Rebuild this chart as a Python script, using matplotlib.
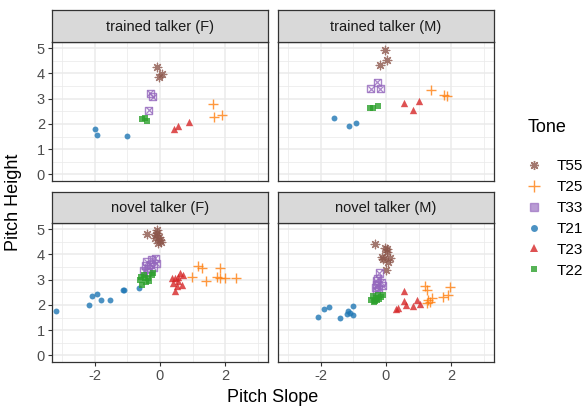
import matplotlib
matplotlib.use("Agg")
import matplotlib.pyplot as plt
from matplotlib.lines import Line2D

plt.rcParams["font.family"] = ["Liberation Sans", "DejaVu Sans"]
plt.rcParams["axes.unicode_minus"] = False

# tone order used in the legend
tones = ["T55", "T25", "T33", "T21", "T23", "T22"]
tone_colors = ["#8c564b", "#ff7f0e", "#9467bd", "#1f77b4", "#d62728", "#2ca02c"]

panel_titles = ["trained talker (F)", "trained talker (M)",
                "novel talker (F)", "novel talker (M)"]

# trained talker (F)
trained_f_tone = ["T55"] * 3 + ["T25"] * 3 + ["T33"] * 3 + ["T21"] * 3 + ["T23"] * 3 + ["T22"] * 3
trained_f_x = [-0.10, 0.07, -0.03, 1.62, 1.64, 1.88, -0.30, -0.22, -0.34,
               -1.99, -1.93, -1.00, 0.43, 0.56, 0.88, -0.55, -0.47, -0.40]
trained_f_y = [4.26, 3.97, 3.84, 2.78, 2.29, 2.34, 3.22, 3.07, 2.54,
               1.79, 1.55, 1.54, 1.79, 1.90, 2.09, 2.20, 2.24, 2.13]

# trained talker (M)
trained_m_tone = ["T55"] * 3 + ["T25"] * 3 + ["T33"] * 3 + ["T21"] * 3 + ["T23"] * 3 + ["T22"] * 3
trained_m_x = [-0.02, 0.03, -0.17, 1.36, 1.78, 1.87, -0.26, -0.47, -0.18,
               -1.59, -1.13, -0.91, 0.56, 1.02, 0.83, -0.49, -0.40, -0.25]
trained_m_y = [4.92, 4.52, 4.34, 3.36, 3.13, 3.11, 3.64, 3.40, 3.40,
               2.22, 1.90, 2.05, 2.83, 2.91, 2.54, 2.61, 2.63, 2.71]

# novel talker (F)
novel_f_tone = ["T21"] * 9 + ["T22"] * 10 + ["T33"] * 10 + ["T55"] * 9 + ["T23"] * 10 + ["T25"] * 9
novel_f_x = [-3.17, -2.16, -2.08, -1.92, -1.79, -1.53, -1.14, -1.09, -0.65,
             -0.57, -0.55, -0.44, -0.38, -0.25, -0.60, -0.50, -0.45, -0.33, -0.20,
             -0.50, -0.45, -0.40, -0.35, -0.30, -0.25, -0.20, -0.15, -0.12, -0.38,
             -0.39, -0.10, -0.15, -0.05, 0.00, -0.08, -0.02, 0.02, -0.12,
             0.46, 0.61, 0.71, 0.46, 0.51, 0.66, 0.41, 0.56, 0.36, 0.55,
             1.17, 1.27, 0.97, 1.40, 1.83, 1.75, 1.98, 1.83, 2.31]
novel_f_y = [1.77, 1.99, 2.35, 2.44, 2.18, 2.19, 2.57, 2.57, 2.68,
             3.12, 2.80, 2.90, 3.08, 3.19, 3.00, 3.20, 3.05, 2.95, 3.25,
             3.35, 3.55, 3.70, 3.45, 3.60, 3.80, 3.50, 3.85, 3.65, 3.30,
             4.80, 4.96, 4.63, 4.44, 4.57, 4.85, 4.70, 4.50, 4.75,
             3.06, 3.26, 3.19, 2.53, 2.73, 2.80, 2.86, 2.93, 3.06, 3.10,
             3.55, 3.45, 3.12, 2.93, 3.45, 3.12, 3.08, 3.06, 3.06]

# novel talker (M)
novel_m_tone = ["T21"] * 9 + ["T22"] * 10 + ["T33"] * 9 + ["T55"] * 9 + ["T23"] * 8 + ["T25"] * 9
novel_m_x = [-2.08, -1.88, -1.74, -1.40, -1.15, -1.10, -1.02, -1.00, -1.20,
             -0.45, -0.40, -0.35, -0.30, -0.25, -0.20, -0.15, -0.10, -0.38, -0.28,
             -0.21, -0.28, -0.28, -0.10, -0.30, -0.22, -0.25, -0.15, -0.32,
             -0.34, 0.02, -0.13, 0.07, 0.00, -0.10, 0.12, 0.04, -0.02,
             0.55, 0.30, 0.55, 0.61, 0.83, 0.95, 1.04, 0.38,
             1.19, 1.24, 1.29, 1.24, 1.42, 1.75, 1.90, 1.97, 1.33]
novel_m_y = [1.52, 1.84, 1.90, 1.47, 1.74, 1.68, 1.59, 1.97, 1.65,
             2.20, 2.35, 2.15, 2.28, 2.40, 2.25, 2.30, 2.38, 2.10, 2.20,
             3.26, 2.55, 2.80, 2.76, 2.95, 2.65, 3.05, 2.90, 2.70,
             4.41, 4.20, 3.91, 3.71, 3.39, 3.80, 3.85, 4.10, 4.25,
             2.53, 1.84, 2.14, 2.00, 1.97, 2.20, 2.03, 1.88,
             2.76, 2.60, 2.20, 2.07, 2.27, 2.31, 2.40, 2.70, 2.13]

panel_data = [(trained_f_x, trained_f_y, trained_f_tone),
              (trained_m_x, trained_m_y, trained_m_tone),
              (novel_f_x, novel_f_y, novel_f_tone),
              (novel_m_x, novel_m_y, novel_m_tone)]

ALPHA = 0.8
GRID = "#ebebeb"
BORDER = "#333333"


def draw_tone(ax, x, y, tone, color, scale=1.0):
    # ggplot-like shapes for each tone
    if tone == "T55":
        ax.scatter(x, y, marker=(8, 2, 0), s=38 * scale, color=color,
                   linewidths=0.9, alpha=ALPHA, zorder=3)
    elif tone == "T25":
        ax.scatter(x, y, marker="+", s=60 * scale, color=color,
                   linewidths=1.0, alpha=ALPHA, zorder=3)
    elif tone == "T33":
        ax.scatter(x, y, marker="s", s=26 * scale, facecolors="none",
                   edgecolors=color, linewidths=1.0, alpha=ALPHA, zorder=3)
        ax.scatter(x, y, marker="x", s=20 * scale, color=color,
                   linewidths=0.9, alpha=ALPHA, zorder=3)
    elif tone == "T21":
        ax.scatter(x, y, marker="o", s=18 * scale, color=color,
                   linewidths=0, alpha=ALPHA, zorder=3)
    elif tone == "T23":
        ax.scatter(x, y, marker="^", s=28 * scale, color=color,
                   linewidths=0, alpha=ALPHA, zorder=3)
    elif tone == "T22":
        ax.scatter(x, y, marker="s", s=20 * scale, color=color,
                   linewidths=0, alpha=ALPHA, zorder=3)


fig = plt.figure(figsize=(5.87, 4.08), dpi=100)
W, H = 587.0, 408.0

panel_left = [52, 278]
panel_top = [42, 223]
panel_w, panel_h = 216, 139
strip_h = [32, 31]

for i, (x, y, tone_list) in enumerate(panel_data):
    row, col = divmod(i, 2)
    l = panel_left[col]
    t = panel_top[row]
    ax = fig.add_axes([l / W, 1 - (t + panel_h) / H, panel_w / W, panel_h / H])
    ax.set_xlim(-3.3, 3.3)
    ax.set_ylim(-0.26, 5.24)
    ax.set_xticks([-2, 0, 2])
    ax.set_yticks([0, 1, 2, 3, 4, 5])
    ax.set_xticks([-3, -1, 1, 3], minor=True)
    ax.set_yticks([0.5, 1.5, 2.5, 3.5, 4.5], minor=True)
    ax.grid(True, which="major", color=GRID, linewidth=1.1, zorder=0)
    ax.grid(True, which="minor", color=GRID, linewidth=0.55, zorder=0)
    ax.set_axisbelow(True)
    for sp in ax.spines.values():
        sp.set_color(BORDER)
        sp.set_linewidth(0.9)
    ax.tick_params(which="minor", length=0)
    ax.tick_params(which="major", length=3, width=0.8, color=BORDER,
                   labelcolor="#4d4d4d", labelsize=10.5, pad=2)
    if row == 0:
        ax.tick_params(axis="x", which="major", length=0, labelbottom=False)
    if col == 1:
        ax.tick_params(axis="y", which="major", length=0, labelleft=False)

    for tone, color in zip(tones, tone_colors):
        xs = [a for a, tn in zip(x, tone_list) if tn == tone]
        ys = [b for b, tn in zip(y, tone_list) if tn == tone]
        draw_tone(ax, xs, ys, tone, color)

    # facet strip
    sh = strip_h[row]
    sax = fig.add_axes([l / W, 1 - t / H, panel_w / W, sh / H])
    sax.set_facecolor("#d9d9d9")
    sax.set_xticks([])
    sax.set_yticks([])
    for sp in sax.spines.values():
        sp.set_color(BORDER)
        sp.set_linewidth(0.9)
    sax.text(0.5, 0.47, panel_titles[i], ha="center", va="center",
             fontsize=10.5, color="#1a1a1a", transform=sax.transAxes)

fig.text(273 / W, 1 - 398 / H, "Pitch Slope", ha="center", va="center",
         fontsize=13, color="black")
fig.text(14 / W, 1 - 202 / H, "Pitch Height", ha="center", va="center",
         rotation=90, fontsize=13, color="black")

# legend
handles = []
marker_for = {"T55": (8, 2, 0), "T25": "+", "T33": "s", "T21": "o", "T23": "^", "T22": "s"}
for tone, color in zip(tones, tone_colors):
    if tone == "T33":
        h = Line2D([], [], marker="s", linestyle="none", markersize=6,
                   markerfacecolor=color, markeredgecolor=color, alpha=0.65)
    elif tone in ("T55", "T25"):
        h = Line2D([], [], marker=marker_for[tone], linestyle="none",
                   markersize=8 if tone == "T25" else 6.5, color=color,
                   markeredgewidth=1.0, alpha=ALPHA)
    else:
        h = Line2D([], [], marker=marker_for[tone], linestyle="none",
                   markersize=5 if tone != "T23" else 5.8, color=color,
                   markeredgewidth=0, alpha=ALPHA)
    handles.append(h)

fig.text(528 / W, 1 - 128 / H, "Tone", ha="left", va="center",
         fontsize=13, color="black")
leg = fig.legend(handles, tones, loc="center left",
                 bbox_to_anchor=(519 / W, 1 - 218.5 / H), frameon=False,
                 fontsize=11, handlelength=1.2, borderaxespad=0,
                 handletextpad=0.85, labelspacing=0.45)

fig.savefig("out.png", dpi=100)
